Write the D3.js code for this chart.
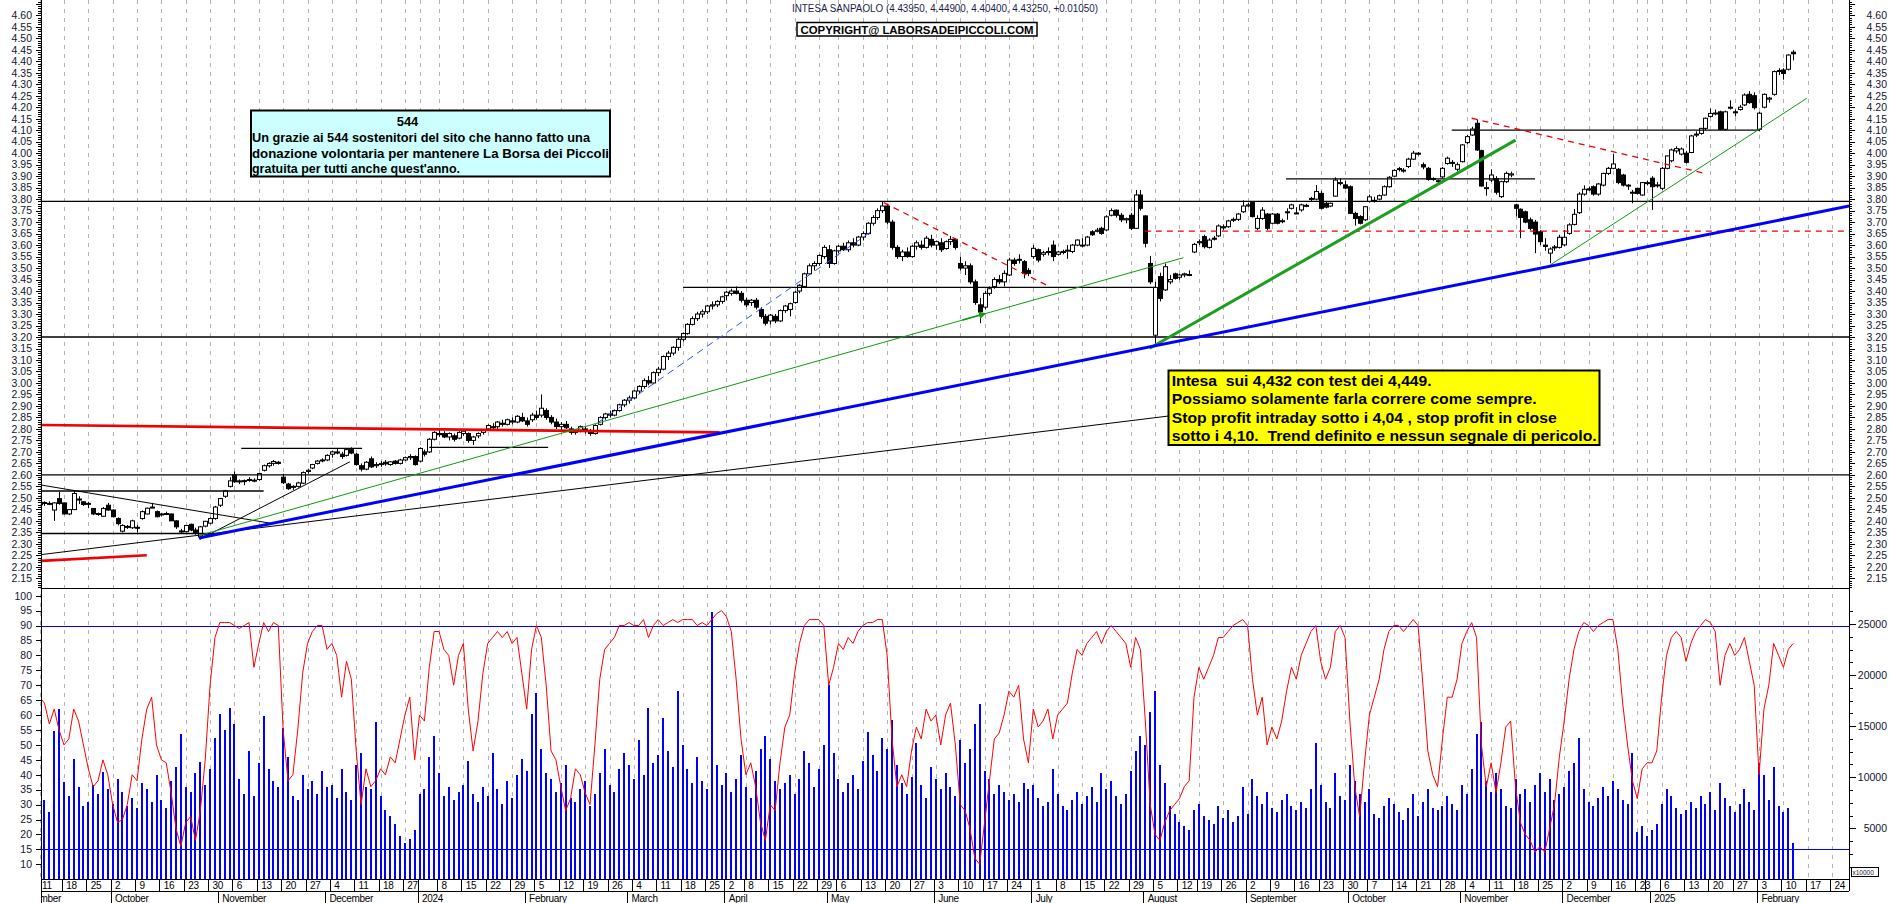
<!DOCTYPE html>
<html><head><meta charset="utf-8">
<script src="https://cdn.jsdelivr.net/npm/d3@7"></script>
<style>
html,body{margin:0;padding:0;background:#fff;}
svg{display:block;}
text{font-family:"Liberation Sans",Arial,sans-serif;}
</style>
</head><body>
<svg id="c" width="1890" height="903"></svg>
<script>
// ---------------- DATA ----------------
const calendarStart = "2023-09-01";   // first trading day of the first (clipped) month
const dataStart = "2023-09-11";       // first candle
const calendarEnd = "2025-02-28";
const holidays = ["2023-12-25","2023-12-26","2024-01-01","2024-03-29","2024-04-01","2024-05-01",
  "2024-08-15","2024-12-24","2024-12-25","2024-12-26","2024-12-31","2025-01-01"];

// daily candles "open high low close"
const candles = [
"2.47 2.49 2.46 2.48","2.48 2.485 2.465 2.477","2.476 2.485 2.468 2.476","2.447 2.482 2.40 2.478","2.497 2.526 2.47 2.476",
"2.478 2.48 2.428 2.43","2.43 2.45 2.425 2.449","2.449 2.53 2.447 2.519","2.495 2.507 2.473 2.492","2.483 2.485 2.465 2.471",
"2.475 2.483 2.455 2.476","2.454 2.456 2.425 2.43","2.43 2.436 2.422 2.432","2.42 2.46 2.418 2.454","2.468 2.478 2.444 2.447",
"2.447 2.45 2.415 2.418","2.41 2.415 2.38 2.388","2.355 2.385 2.35 2.38","2.376 2.382 2.365 2.374","2.37 2.405 2.365 2.40",
"2.372 2.382 2.35 2.37","2.41 2.445 2.405 2.44","2.43 2.458 2.428 2.455","2.46 2.478 2.455 2.458","2.44 2.445 2.415 2.418",
"2.43 2.435 2.42 2.428","2.43 2.44 2.425 2.432","2.43 2.432 2.40 2.40","2.40 2.402 2.365 2.374","2.356 2.365 2.345 2.355",
"2.353 2.382 2.35 2.38","2.385 2.388 2.355 2.36","2.36 2.37 2.34 2.35","2.33 2.378 2.32 2.374","2.377 2.40 2.372 2.398",
"2.39 2.415 2.385 2.41","2.41 2.465 2.405 2.46","2.468 2.50 2.46 2.497","2.507 2.535 2.50 2.53","2.55 2.59 2.545 2.574",
"2.60 2.615 2.565 2.57","2.572 2.58 2.56 2.574","2.575 2.58 2.555 2.572","2.578 2.59 2.57 2.58","2.576 2.585 2.568 2.577",
"2.58 2.61 2.575 2.606","2.62 2.645 2.615 2.64","2.64 2.655 2.632 2.65","2.65 2.665 2.64 2.658","2.655 2.66 2.645 2.65",
"2.59 2.605 2.56 2.566","2.56 2.565 2.535 2.54","2.548 2.555 2.535 2.55","2.55 2.57 2.545 2.565","2.564 2.615 2.56 2.61",
"2.615 2.625 2.605 2.62","2.63 2.648 2.625 2.645","2.65 2.665 2.645 2.66","2.662 2.672 2.655 2.665","2.665 2.69 2.66 2.685",
"2.69 2.705 2.675 2.70","2.70 2.712 2.69 2.695","2.69 2.70 2.67 2.68","2.685 2.715 2.68 2.71","2.71 2.72 2.69 2.695",
"2.69 2.695 2.64 2.645","2.64 2.65 2.615 2.625","2.625 2.66 2.62 2.655","2.67 2.68 2.63 2.635","2.64 2.655 2.63 2.645",
"2.645 2.66 2.635 2.65","2.655 2.665 2.64 2.648","2.645 2.66 2.64 2.657","2.66 2.665 2.645 2.65","2.65 2.67 2.645 2.665",
"2.665 2.68 2.66 2.675","2.675 2.69 2.665 2.68","2.68 2.685 2.64 2.645",
"2.66 2.72 2.655 2.715","2.70 2.71 2.68 2.69","2.70 2.76 2.695 2.755","2.755 2.79 2.75 2.785",
"2.78 2.80 2.765 2.775","2.78 2.79 2.76 2.765","2.765 2.785 2.75 2.78","2.77 2.78 2.745 2.755","2.76 2.79 2.755 2.785",
"2.78 2.795 2.77 2.79","2.78 2.785 2.74 2.75","2.75 2.77 2.73 2.765","2.77 2.785 2.76 2.78","2.785 2.80 2.775 2.795",
"2.80 2.82 2.795 2.815","2.81 2.825 2.80 2.805","2.81 2.835 2.80 2.83","2.825 2.84 2.81 2.82","2.82 2.845 2.815 2.84",
"2.835 2.85 2.82 2.83","2.83 2.86 2.825 2.855","2.85 2.87 2.83 2.835","2.835 2.85 2.81 2.82","2.84 2.87 2.83 2.86",
"2.86 2.88 2.84 2.85","2.86 2.95 2.85 2.89","2.88 2.89 2.84 2.85","2.85 2.86 2.82 2.83","2.83 2.845 2.80 2.81",
"2.81 2.83 2.795 2.82","2.82 2.835 2.80 2.805","2.80 2.81 2.775 2.785","2.785 2.80 2.775 2.795","2.795 2.815 2.785 2.81",
"2.80 2.81 2.78 2.79","2.79 2.80 2.77 2.78","2.78 2.82 2.775 2.815","2.82 2.855 2.815 2.85","2.85 2.87 2.84 2.865",
"2.865 2.88 2.85 2.86","2.86 2.885 2.855 2.88","2.88 2.91 2.875 2.905","2.905 2.93 2.895 2.925","2.925 2.945 2.91 2.935",
"2.935 2.97 2.93 2.965","2.965 2.99 2.955 2.985","2.985 3.02 2.975 3.01","3.01 3.03 2.99 3.00","3.00 3.05 2.995 3.045",
"3.045 3.07 3.03 3.06","3.06 3.12 3.055 3.115","3.115 3.14 3.10 3.13","3.13 3.16 3.12 3.155","3.155 3.20 3.14 3.19",
"3.19 3.22 3.18 3.215","3.215 3.26 3.21 3.255","3.255 3.29 3.25 3.28","3.28 3.31 3.27 3.30","3.30 3.32 3.285 3.31",
"3.31 3.34 3.30 3.335","3.335 3.355 3.32 3.34","3.34 3.36 3.33 3.355","3.355 3.38 3.345 3.375",
"3.38 3.40 3.36 3.395","3.39 3.41 3.38 3.40","3.40 3.42 3.385 3.39","3.39 3.40 3.35 3.36",
"3.36 3.37 3.33 3.34","3.35 3.365 3.335 3.36","3.36 3.37 3.32 3.33","3.32 3.33 3.28 3.29","3.29 3.30 3.25 3.26",
"3.27 3.30 3.255 3.295","3.29 3.30 3.26 3.27","3.27 3.32 3.265 3.315","3.315 3.34 3.305 3.335","3.32 3.35 3.29 3.345",
"3.35 3.40 3.345 3.395","3.40 3.43 3.39 3.425","3.42 3.48 3.415 3.475","3.475 3.52 3.47 3.51","3.51 3.53 3.49 3.52",
"3.52 3.56 3.51 3.555","3.55 3.60 3.54 3.59","3.58 3.60 3.50 3.52","3.52 3.58 3.515 3.575",
"3.575 3.60 3.565 3.595","3.595 3.61 3.575 3.58","3.58 3.62 3.57 3.61","3.61 3.63 3.59 3.60","3.60 3.64 3.595 3.635",
"3.635 3.66 3.62 3.65","3.65 3.70 3.645 3.695","3.695 3.73 3.685 3.72","3.72 3.76 3.71 3.75","3.75 3.79 3.74 3.77",
"3.77 3.78 3.69 3.70","3.70 3.71 3.58 3.59","3.59 3.60 3.54 3.55","3.55 3.58 3.53 3.57","3.57 3.59 3.545 3.55",
"3.55 3.60 3.545 3.595","3.595 3.62 3.58 3.61","3.60 3.62 3.58 3.59","3.59 3.64 3.585 3.63","3.625 3.645 3.59 3.60",
"3.60 3.62 3.58 3.615","3.61 3.63 3.57 3.58","3.585 3.62 3.58 3.615","3.615 3.64 3.60 3.625","3.625 3.63 3.58 3.59",
"3.52 3.55 3.49 3.50","3.50 3.53 3.47 3.51","3.51 3.52 3.43 3.44","3.44 3.45 3.34 3.35","3.34 3.37 3.26 3.31",
"3.33 3.40 3.32 3.39","3.39 3.42 3.38 3.41","3.42 3.46 3.41 3.45","3.45 3.47 3.43 3.44","3.44 3.49 3.42 3.477",
"3.47 3.545 3.465 3.535","3.535 3.545 3.51 3.52","3.535 3.56 3.52 3.538","3.528 3.535 3.455 3.477","3.49 3.50 3.465 3.477",
"3.55 3.60 3.54 3.586","3.58 3.585 3.525 3.535","3.56 3.575 3.55 3.567","3.57 3.59 3.555 3.572","3.60 3.62 3.53 3.55",
"3.56 3.575 3.555 3.57","3.572 3.58 3.56 3.57","3.575 3.60 3.54 3.578","3.572 3.605 3.565 3.60","3.60 3.625 3.595 3.622",
"3.60 3.63 3.59 3.60","3.60 3.64 3.595 3.635","3.658 3.665 3.64 3.645","3.66 3.675 3.655 3.665","3.673 3.68 3.645 3.651",
"3.666 3.73 3.66 3.723","3.73 3.76 3.725 3.75","3.752 3.755 3.72 3.73","3.73 3.74 3.70 3.71","3.71 3.72 3.695 3.715",
"3.73 3.74 3.665 3.673","3.673 3.84 3.67 3.818","3.818 3.84 3.75 3.76","3.727 3.73 3.59 3.608","3.52 3.553 3.43 3.44",
"3.208 3.44 3.165 3.416","3.463 3.48 3.355 3.368","3.405 3.52 3.40 3.506","3.44 3.47 3.43 3.45","3.475 3.48 3.45 3.455",
"3.46 3.475 3.45 3.47","3.47 3.48 3.46 3.475","3.47 3.49 3.465 3.472","3.57 3.61 3.565 3.603",
"3.61 3.625 3.60 3.615","3.637 3.645 3.585 3.593","3.59 3.63 3.585 3.622","3.63 3.64 3.62 3.628","3.64 3.69 3.635 3.683",
"3.68 3.69 3.665 3.675","3.68 3.71 3.675 3.705","3.71 3.72 3.70 3.712","3.712 3.74 3.705 3.735","3.745 3.795 3.74 3.77",
"3.77 3.785 3.765 3.775","3.785 3.79 3.72 3.724","3.673 3.73 3.665 3.716","3.716 3.765 3.71 3.752","3.735 3.74 3.665 3.673",
"3.695 3.74 3.69 3.735","3.735 3.74 3.69 3.695","3.705 3.715 3.695 3.706","3.745 3.76 3.71 3.745","3.76 3.78 3.755 3.775",
"3.74 3.765 3.735 3.74","3.753 3.78 3.745 3.775","3.772 3.78 3.765 3.773","3.80 3.81 3.79 3.803","3.80 3.861 3.795 3.833",
"3.825 3.835 3.755 3.76","3.782 3.79 3.76 3.765","3.77 3.785 3.765 3.782","3.813 3.895 3.81 3.883","3.87 3.89 3.86 3.872",
"3.862 3.88 3.845 3.848","3.854 3.86 3.735 3.738","3.738 3.745 3.685 3.716","3.724 3.73 3.69 3.695","3.71 3.77 3.705 3.767",
"3.79 3.82 3.785 3.81","3.795 3.81 3.785 3.793","3.80 3.82 3.795 3.815","3.818 3.86 3.815 3.854","3.854 3.90 3.85 3.895",
"3.90 3.93 3.895 3.925","3.93 3.94 3.92 3.933","3.925 3.935 3.915 3.926","3.942 3.98 3.935 3.974","3.974 4.01 3.97 4.00",
"4.00 4.005 3.99 3.997","3.95 3.96 3.93 3.94","3.934 3.94 3.88 3.886","3.89 3.895 3.88 3.888","3.88 3.885 3.87 3.878",
"3.897 3.94 3.89 3.934","3.955 3.985 3.95 3.978","3.96 3.97 3.94 3.958","3.93 3.96 3.92 3.95","3.963 4.04 3.96 4.036",
"4.046 4.08 4.04 4.072","4.079 4.115 4.075 4.105","4.13 4.147 4.01 4.014","4.011 4.015 3.855 3.857","3.85 3.875 3.815 3.85",
"3.883 3.93 3.875 3.905","3.89 3.90 3.82 3.83","3.811 3.88 3.805 3.876","3.876 3.92 3.87 3.912","3.905 3.92 3.895 3.91",
"3.775 3.78 3.725 3.76","3.756 3.76 3.63 3.72","3.745 3.75 3.695 3.70","3.71 3.72 3.665 3.673","3.70 3.71 3.565 3.648",
"3.658 3.665 3.60 3.615","3.60 3.63 3.575 3.594","3.565 3.59 3.521 3.583","3.59 3.60 3.575 3.592","3.59 3.645 3.585 3.634",
"3.601 3.666 3.595 3.634","3.651 3.695 3.645 3.688","3.69 3.757 3.685 3.734","3.741 3.83 3.735 3.822","3.822 3.86 3.815 3.843",
"3.845 3.855 3.835 3.84","3.854 3.86 3.815 3.822","3.822 3.87 3.815 3.866","3.861 3.915 3.855 3.912","3.912 3.94 3.905 3.934",
"3.934 3.996 3.93 3.953","3.93 3.935 3.865 3.872","3.905 3.91 3.855 3.861","3.86 3.865 3.84 3.861","3.83 3.84 3.782 3.83",
"3.847 3.85 3.82 3.825","3.818 3.875 3.815 3.872",
"3.87 3.88 3.86 3.872","3.891 3.90 3.753 3.854","3.86 3.875 3.85 3.862",
"3.847 3.94 3.84 3.934","3.934 3.99 3.93 3.988","3.967 4.02 3.96 4.014","4.01 4.03 4.00 4.02","3.996 4.025 3.99 4.018",
"4.00 4.01 3.955 3.96","4.003 4.08 4.0 4.075","4.08 4.095 4.07 4.083","4.086 4.11 4.08 4.108","4.108 4.155 4.10 4.152",
"4.16 4.195 4.155 4.173","4.175 4.19 4.165 4.175","4.18 4.185 4.10 4.104","4.104 4.185 4.10 4.18","4.20 4.23 4.19 4.20",
"4.18 4.19 4.16 4.178","4.19 4.21 4.185 4.20","4.21 4.26 4.205 4.253","4.256 4.27 4.215 4.22","4.25 4.265 4.19 4.198",
"4.104 4.18 4.095 4.174","4.20 4.26 4.195 4.256","4.235 4.245 4.22 4.24","4.256 4.36 4.25 4.355","4.36 4.37 4.34 4.358",
"4.362 4.37 4.32 4.347","4.365 4.43 4.36 4.427","4.4395 4.449 4.404 4.4325"
];

// daily volume (axis units, x10000)
const volume = [
9000,7800,6600,14500,16700,9500,8200,11800,9000,7200,
7600,9200,8400,10500,8800,7400,9800,8600,7200,8000,
7000,9400,8800,7600,10200,7800,7000,9600,11000,14200,
9000,8600,10400,11500,9200,10800,13800,16200,14600,16800,
15200,9800,8400,12600,8200,11400,16000,10800,9600,9000,
14800,12000,8200,7800,10200,8800,9600,8400,10600,9000,
9200,8000,10800,8600,7800,11200,12400,9000,8800,15400,
8200,6800,6200,5400,4200,3600,4000,4800,8400,8800,
12000,14000,10400,8200,9000,7800,8600,9200,11600,8400,
7600,9000,8200,12400,8800,7400,9600,8000,10200,11800,
10600,16200,18200,12800,10400,9800,8600,9400,11200,8000,
7600,8800,9600,7200,8400,10400,12800,9200,8600,10800,
12400,11200,9800,13600,10200,16800,11400,12200,15800,12600,
11000,18400,13200,10800,9400,12000,9600,8800,26200,11200,
9200,10400,8600,9800,12200,9000,8000,10600,12800,14000,
11800,9600,8800,9400,10200,8400,9800,12600,11400,9000,
10800,13200,19000,12400,9800,8600,9400,10200,8800,11600,
14400,12200,10600,13800,12800,15600,11200,9400,8400,10000,
13400,9200,8000,11000,9800,8800,10400,9000,8200,13600,
11400,12800,15200,17200,10600,9800,8400,9200,8600,7800,
8400,7600,9400,8800,9200,8000,7200,7600,10800,8400,
7200,6800,7800,8600,7400,8200,9000,7600,10400,8800,
9600,8200,7400,8400,10600,12600,14000,13200,16400,18400,
11200,9400,7200,6400,5600,5200,4800,6800,7400,6200,
5800,5400,7200,6000,6800,5600,6200,9000,6400,9800,
8200,7400,8600,7000,6600,7800,8400,7200,6800,7600,
7000,8800,13400,9200,7600,7000,10400,8200,7800,11200,
9600,8400,7600,8800,6400,6000,7200,8000,7400,6600,
5800,7000,8400,6200,7600,8800,7000,6800,7200,8200,
7400,6800,9200,8400,10800,14200,15400,9600,8600,10400,
8800,7200,7000,9800,8400,8800,7600,9200,10400,8600,
9800,7800,8400,9000,10600,11400,13800,8800,7600,7200,
8000,9000,8200,9600,8800,7800,7400,12400,4600,5200,
4200,4800,5400,7400,8800,8200,7000,6400,6800,7600,
7000,8200,7400,8600,6800,9400,8000,7200,6600,7400,
8800,7600,6800,11400,10200,7800,11000,7200,6600,7000,3600
];

// oscillator (red line, 0-100)
const oscillator = [
66,64,57,62,55,50,52,62,58,50,
42,36,38,45,40,30,24,25,30,40,
38,52,62,66,50,45,44,34,22,16,
24,26,18,28,45,70,86,91,91,91,
90,89,90,91,76,84,91,88,91,90,
55,38,40,55,74,84,88,90,90,82,
84,80,66,78,72,48,30,42,36,38,
42,40,46,44,52,60,66,45,60,58,
76,88,88,82,80,70,80,84,62,48,
58,74,84,86,88,86,88,84,86,74,
62,82,90,86,70,48,45,36,28,32,
42,40,34,30,50,72,82,84,86,90,
90,91,90,90,92,86,90,92,90,91,
92,91,92,92,92,90,91,90,92,94,
95,93,88,72,52,40,44,36,24,18,
30,28,44,56,60,74,84,90,92,92,
92,90,70,76,84,82,86,84,88,90,
91,91,92,92,80,52,36,40,36,48,
56,52,62,58,60,50,60,64,50,30,
28,22,12,10,24,38,52,54,60,68,
66,70,52,44,62,56,58,62,52,60,
62,64,74,82,80,84,86,88,84,88,
90,88,86,84,76,86,82,58,30,20,
18,24,28,30,32,36,38,66,76,72,
76,80,86,86,88,90,91,92,90,72,
60,66,50,56,52,58,68,76,72,80,
84,88,90,78,72,76,88,90,86,58,
36,26,44,60,66,72,82,88,90,90,
88,90,92,90,70,48,40,36,52,66,
66,72,84,88,91,86,50,36,44,34,
44,56,58,36,24,20,18,14,16,14,
22,30,46,58,72,82,88,91,90,88,
90,91,92,92,82,64,50,38,32,42,
44,44,48,66,80,86,88,86,78,84,
88,90,92,91,88,70,80,84,80,82,
86,78,70,40,62,70,84,80,76,82,84
];

// tick labels
const priceTickLabels = ["2.15","2.20","2.25","2.30","2.35","2.40","2.45","2.50","2.55","2.60","2.65","2.70","2.75","2.80","2.85","2.90","2.95","3.00","3.05","3.10","3.15","3.20","3.25","3.30","3.35","3.40","3.45","3.50","3.55","3.60","3.65","3.70","3.75","3.80","3.85","3.90","3.95","4.00","4.05","4.10","4.15","4.20","4.25","4.30","4.35","4.40","4.45","4.50","4.55","4.60"];
const oscTickLabels = ["10","15","20","25","30","35","40","45","50","55","60","65","70","75","80","85","90","95","100"];
const volTickLabels = ["5000","10000","15000","20000","25000"];
const monthNames = ["January","February","March","April","May","June","July","August","September","October","November","December"];
const oscLevels = [90, 15];

// drawn studies: [index1, price1, index2, price2]
const blackHLines = [[0.3,3.79,371.5,3.79],[0.3,3.20,371.5,3.20],[0.3,2.60,371.5,2.60],[0.3,2.345,35,2.345],[0.3,2.53,46,2.53],
  [41.4,2.715,66.2,2.715],[80,2.72,104.4,2.72],[132.1,3.416,229,3.416],[255.9,3.888,307,3.888],[289.9,4.10,353.2,4.10]];
const blackThin = [[0.3,2.556,47.3,2.39],[0.3,2.253,231.7,2.856],[32.9,2.32,63.7,2.657]];
const redThick = [[0.3,2.226,22,2.25],[0.3,2.817,139.6,2.785]];
const redDashed = [[173.3,3.785,206.7,3.426],[294,4.152,341.9,3.912],[226.9,3.661,371.5,3.661]];
const greenThin = [[32.9,2.337,234.8,3.545],[310.1,3.513,362.8,4.239]];
const greenThick = [[227.9,3.151,303,4.057]];
const blueThick = [[32.7,2.325,371.5,3.77]];
const blueDashed = [[114.8,2.83,170.8,3.66]];
const greenArrows = [[189.5,3.274,194.2,3.302]];

const titleText = "INTESA SANPAOLO (4.43950, 4.44900, 4.40400, 4.43250, +0.01050)";
const copyrightText = "COPYRIGHT@ LABORSADEIPICCOLI.COM";
const noteCyan = ["544","Un grazie ai 544 sostenitori del sito che hanno fatto una","donazione volontaria per mantenere La Borsa dei Piccoli","gratuita per tutti anche quest'anno."];
const noteYellow = ["Intesa  sui 4,432 con test dei 4,449.","Possiamo solamente farla correre come sempre.","Stop profit intraday sotto i 4,04 , stop profit in close","sotto i 4,10.  Trend definito e nessun segnale di pericolo."];

// ---------------- LAYOUT ----------------
const X0 = 41, X1 = 1849;
const P_TOP = 0, P_BOT = 587.7, L_BOT = 879;
const svg = d3.select("#c");

// trading calendar
const parse = d3.utcParse("%Y-%m-%d"), fmt = d3.utcFormat("%Y-%m-%d");
const hol = new Set(holidays);
const allDays = [];
for (let d = parse(calendarStart); d <= parse(calendarEnd); d = d3.utcDay.offset(d, 1)) {
  const wd = d.getUTCDay();
  if (wd === 0 || wd === 6 || hol.has(fmt(d))) continue;
  allDays.push(d);
}
const offset = allDays.findIndex(d => fmt(d) === dataStart);
const days = allDays.map((d, k) => ({date: d, i: k - offset}));

const x = d3.scaleLinear().domain([0, 371.5]).range([39.6, 39.6 + 4.871 * 371.5]);
const yP = d3.scaleLinear().domain([2.15, 4.60]).range([578.3, 15.3]);
const yO = d3.scaleLinear().domain([10, 100]).range([864.3, 595.7]);
const yV = d3.scaleLinear().domain([0, 25000]).range([879.4, 624.0]);

const defs = svg.append("defs");
defs.append("clipPath").attr("id", "cp").append("rect").attr("x", X0).attr("y", P_TOP).attr("width", X1 - X0).attr("height", P_BOT - P_TOP);
defs.append("clipPath").attr("id", "cl").append("rect").attr("x", X0).attr("y", P_BOT).attr("width", X1 - X0).attr("height", L_BOT - P_BOT);
defs.append("clipPath").attr("id", "cx").append("rect").attr("x", X0 + 1).attr("y", L_BOT).attr("width", X1 - X0 - 1).attr("height", 903 - L_BOT);
defs.append("marker").attr("id", "ga").attr("viewBox", "0 0 10 10").attr("refX", 9).attr("refY", 5)
  .attr("markerWidth", 5).attr("markerHeight", 5).attr("orient", "auto")
  .append("path").attr("d", "M0,0 L10,5 L0,10 Z").attr("fill", "#119911");

// weeks & months
const weekStarts = days.filter((d, k) => k > 0 && d3.utcMonday.floor(d.date).getTime() !== d3.utcMonday.floor(days[k - 1].date).getTime() && d.i >= 0);
const monthStarts = days.filter((d, k) => k === 0 || d.date.getUTCMonth() !== days[k - 1].date.getUTCMonth());

// grid
svg.append("g").selectAll("line").data(weekStarts).join("line")
  .attr("x1", d => Math.round(x(d.i)) + 0.5).attr("x2", d => Math.round(x(d.i)) + 0.5)
  .attr("y1", 0).attr("y2", L_BOT)
  .attr("stroke", "#b4b4b4").attr("stroke-width", 1).attr("stroke-dasharray", "4,5");

// ---------------- PRICE PANEL ----------------
const cdata = candles.map((s, i) => { const v = s.split(" ").map(Number); return {i, o: v[0], h: v[1], l: v[2], c: v[3]}; });
const gp = svg.append("g").attr("clip-path", "url(#cp)");
const gc = gp.append("g");
gc.selectAll("line.w").data(cdata).join("line").attr("class", "w")
  .attr("x1", d => Math.round(x(d.i)) + 0.5).attr("x2", d => Math.round(x(d.i)) + 0.5)
  .attr("y1", d => yP(d.h)).attr("y2", d => yP(d.l)).attr("stroke", "#000").attr("stroke-width", 1);
gc.selectAll("rect.b").data(cdata).join("rect").attr("class", "b")
  .attr("x", d => Math.round(x(d.i)) - 1.5).attr("width", 4)
  .attr("y", d => yP(Math.max(d.o, d.c)))
  .attr("height", d => Math.max(1, yP(Math.min(d.o, d.c)) - yP(Math.max(d.o, d.c))))
  .attr("fill", d => d.c >= d.o ? "#fff" : "#000").attr("stroke", "#000").attr("stroke-width", 1);

function segs(g, data, color, width, dash) {
  return g.append("g").selectAll("line").data(data).join("line")
    .attr("x1", d => x(d[0])).attr("y1", d => yP(d[1])).attr("x2", d => x(d[2])).attr("y2", d => yP(d[3]))
    .attr("stroke", color).attr("stroke-width", width).attr("stroke-dasharray", dash || null);
}
segs(gp, blackHLines, "#000", 1.3);
segs(gp, blackThin, "#000", 1);
segs(gp, redThick, "#f00000", 2.6);
segs(gp, redDashed, "#f00000", 1.3, "6,5");
segs(gp, greenThin, "#119911", 1);
segs(gp, greenArrows, "#119911", 1.5).attr("marker-end", "url(#ga)");
segs(gp, blueDashed, "#3050ff", 1, "7,5");
segs(gp, greenThick, "#1e9e1e", 3);
segs(gp, blueThick, "#0000ff", 3);

// ---------------- LOWER PANEL ----------------
const gl = svg.append("g").attr("clip-path", "url(#cl)");
gl.selectAll("rect").data(volume.map((v, i) => ({i, v}))).join("rect")
  .attr("x", d => Math.round(x(d.i)) - 1).attr("width", 2.2)
  .attr("y", d => yV(d.v)).attr("height", d => yV(0) - yV(d.v))
  .attr("fill", "#0000ff").attr("shape-rendering", "crispEdges");
gl.selectAll("line.lv").data(oscLevels).join("line").attr("class", "lv")
  .attr("x1", X0).attr("x2", X1).attr("y1", d => Math.round(yO(d)) + 0.5).attr("y2", d => Math.round(yO(d)) + 0.5)
  .attr("stroke", "#0000ff").attr("stroke-width", 1);
gl.append("path").datum(oscillator.map((v, i) => [i, v]))
  .attr("d", d3.line().x(d => x(d[0])).y(d => yO(d[1])))
  .attr("fill", "none").attr("stroke", "#ff0000").attr("stroke-width", 1);

// ---------------- FRAME & AXES ----------------
const frame = svg.append("g").attr("stroke", "#000").attr("shape-rendering", "crispEdges");
frame.append("line").attr("x1", X0 + 0.5).attr("x2", X0 + 0.5).attr("y1", 0).attr("y2", 903);
frame.append("line").attr("x1", X1 + 0.5).attr("x2", X1 + 0.5).attr("y1", 0).attr("y2", 891);
frame.append("line").attr("x1", X0).attr("x2", X1).attr("y1", 588.5).attr("y2", 588.5);
frame.append("line").attr("x1", X0).attr("x2", X1).attr("y1", L_BOT + 0.5).attr("y2", L_BOT + 0.5);
frame.append("line").attr("x1", X0).attr("x2", X1).attr("y1", 891.5).attr("y2", 891.5);

const axisCol = "#14142e";
// price ticks (minor every 0.01)
const minor = d3.range(211, 467).map(v => v / 100);
const gt = svg.append("g").attr("stroke", "#000").attr("shape-rendering", "crispEdges");
minor.forEach(v => {
  const yy = Math.round(yP(v)) + 0.5, major = Math.round(v * 100) % 5 === 0;
  gt.append("line").attr("x1", X0 - (major ? 5 : 3)).attr("x2", X0).attr("y1", yy).attr("y2", yy);
  gt.append("line").attr("x1", X1).attr("x2", X1 + (major ? 6 : 3)).attr("y1", yy).attr("y2", yy);
});
const gtl = svg.append("g").attr("font-size", 10.5).attr("fill", axisCol);
priceTickLabels.forEach(s => {
  const yy = yP(+s) + 3.8;
  gtl.append("text").attr("x", 32).attr("y", yy).attr("text-anchor", "end").text(s);
  gtl.append("text").attr("x", 1887).attr("y", yy).attr("text-anchor", "end").text(s);
});
oscTickLabels.forEach(s => {
  const yy = Math.round(yO(+s)) + 0.5;
  gt.append("line").attr("x1", X0 - 5).attr("x2", X0).attr("y1", yy).attr("y2", yy);
  gtl.append("text").attr("x", 32).attr("y", yO(+s) + 3.8).attr("text-anchor", "end").text(s);
});
d3.range(1250, 26300, 1250).forEach(v => {
  const yy = Math.round(yV(v)) + 0.5, major = v % 5000 === 0;
  gt.append("line").attr("x1", X1).attr("x2", X1 + (major ? 7 : 4)).attr("y1", yy).attr("y2", yy);
});
volTickLabels.forEach(s => {
  gtl.append("text").attr("x", 1887).attr("y", yV(+s) + 3.8).attr("text-anchor", "end").text(s);
});
svg.append("rect").attr("x", 1851.5).attr("y", 867.5).attr("width", 27).attr("height", 9)
  .attr("fill", "#fff").attr("stroke", "#000").attr("stroke-width", 1);
svg.append("text").attr("x", 1852.5).attr("y", 875).attr("font-size", 6.5).attr("fill", axisCol).text("x10000");

// x axis rows
const gx = svg.append("g").attr("clip-path", "url(#cx)");
const weekLabels = weekStarts.filter(d => {
  // the week holding the first session of a new year carries the year in the month row instead
  const k = days.indexOf(d);
  const end = days.slice(k, k + 5);
  return !end.some((e, j) => j > 0 && e.date.getUTCFullYear() !== d.date.getUTCFullYear() && d3.utcMonday.floor(e.date).getTime() === d3.utcMonday.floor(d.date).getTime())
    && !(d.date.getUTCMonth() === 0 && d.date.getUTCDate() <= 3);
});
gx.selectAll("line.ws").data(weekStarts).join("line").attr("class", "ws")
  .attr("x1", d => Math.round(x(d.i) - 2) + 0.5).attr("x2", d => Math.round(x(d.i) - 2) + 0.5)
  .attr("y1", L_BOT).attr("y2", 891).attr("stroke", "#000").attr("shape-rendering", "crispEdges");
gx.selectAll("text.wl").data(weekLabels).join("text").attr("class", "wl")
  .attr("x", d => x(d.i) + 2.4).attr("y", 888.8).attr("font-size", 10).attr("fill", "#000")
  .attr("letter-spacing", -0.3).text(d => d.date.getUTCDate());
gx.selectAll("line.ms").data(monthStarts).join("line").attr("class", "ms")
  .attr("x1", d => Math.round(x(d.i) - 2) + 0.5).attr("x2", d => Math.round(x(d.i) - 2) + 0.5)
  .attr("y1", 891).attr("y2", 903).attr("stroke", "#000").attr("shape-rendering", "crispEdges");
gx.selectAll("text.ml").data(monthStarts).join("text").attr("class", "ml")
  .attr("x", d => x(d.i) + (d.i < 0 ? 4.5 : 2.4)).attr("y", 901.5).attr("font-size", 10).attr("fill", "#000")
  .attr("letter-spacing", -0.3)
  .text(d => d.date.getUTCMonth() === 0 ? String(d.date.getUTCFullYear()) : monthNames[d.date.getUTCMonth()]);

// ---------------- TITLES & NOTES ----------------
svg.append("text").attr("x", 792).attr("y", 12).attr("font-size", 10).attr("fill", "#1c1c4c")
  .attr("textLength", 306).attr("lengthAdjust", "spacingAndGlyphs").text(titleText);
svg.append("rect").attr("x", 797).attr("y", 22.5).attr("width", 240).attr("height", 13.5)
  .attr("fill", "#fff").attr("stroke", "#000").attr("stroke-width", 1.5);
svg.append("text").attr("x", 800.5).attr("y", 33.5).attr("font-size", 11.5).attr("font-weight", "bold")
  .attr("textLength", 233).attr("lengthAdjust", "spacingAndGlyphs").text(copyrightText);

svg.append("rect").attr("x", 251).attr("y", 110.5).attr("width", 359).attr("height", 66)
  .attr("fill", "#ccffff").attr("stroke", "#000").attr("stroke-width", 2);
const cy = [126, 141.7, 157.5, 172.7], cw = [21.6, 338, 357, 208];
noteCyan.forEach((s, k) => {
  const t = svg.append("text").attr("y", cy[k]).attr("font-size", 13.5).attr("font-weight", "bold").attr("fill", "#000")
    .attr("textLength", cw[k]).attr("lengthAdjust", "spacingAndGlyphs").text(s);
  if (k === 0) t.attr("x", 396.7); else t.attr("x", 252);
});

svg.append("rect").attr("x", 1168.5).attr("y", 370.5).attr("width", 431).attr("height", 74.5)
  .attr("fill", "#ffff00").attr("stroke", "#000").attr("stroke-width", 2);
const yyb = [386, 404.3, 422.7, 441], yw = [260, 365, 385, 425];
noteYellow.forEach((s, k) => {
  svg.append("text").attr("x", 1171.7).attr("y", yyb[k]).attr("font-size", 15).attr("font-weight", "bold")
    .attr("fill", "#000").style("white-space", "pre")
    .attr("textLength", yw[k]).attr("lengthAdjust", "spacingAndGlyphs").text(s);
});
</script>
</body></html>
